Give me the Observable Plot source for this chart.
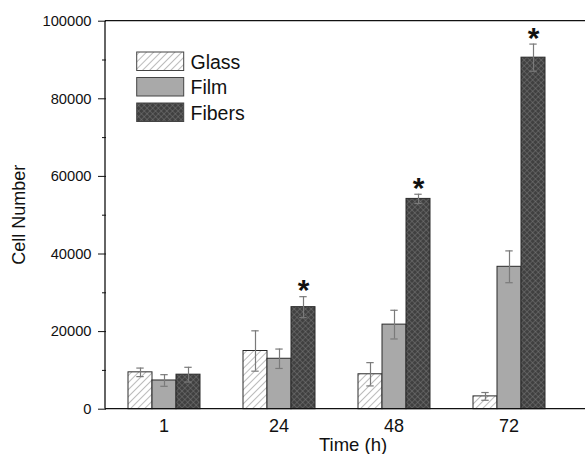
<!DOCTYPE html>
<html>
<head>
<meta charset="utf-8">
<script src="https://cdn.jsdelivr.net/npm/d3@7"></script>
<script src="https://cdn.jsdelivr.net/npm/@observablehq/plot@0.6"></script>
<style>
  html, body { margin: 0; padding: 0; background: #fff; }
  #chart { width: 585px; height: 454px; overflow: hidden; }
</style>
</head>
<body>
<div id="chart"></div>
<script>
// ---- data ----
const times = ["1", "24", "48", "72"];
const series = ["Glass", "Film", "Fibers"];
const glass = [9500, 15000, 9000, 3300];
const glassErr = [1100, 5200, 3000, 1000];
const film = [7400, 13000, 21800, 36700];
const filmErr = [1500, 2500, 3700, 4100];
const fibers = [8900, 26300, 54200, 90600];
const fibersErr = [1900, 2700, 1200, 3500];
const significant = [false, true, true, true]; // asterisk over Fibers
const yMajorTicks = [0, 20000, 40000, 60000, 80000, 100000];
const yMinorTicks = [10000, 30000, 50000, 70000, 90000];

// ---- table built from arrays ----
const values = {Glass: glass, Film: film, Fibers: fibers};
const errors = {Glass: glassErr, Film: filmErr, Fibers: fibersErr};
const data = [];
times.forEach((t, i) => series.forEach(s => {
  data.push({time: t, series: s, value: values[s][i], lo: values[s][i] - errors[s][i], hi: values[s][i] + errors[s][i], star: s === "Fibers" && significant[i]});
}));

const fills = {Glass: "url(#glassHatch)", Film: "#a9a9a9", Fibers: "url(#fiberHatch)"};
const font = "'Liberation Sans', Arial, sans-serif";

const W = 585, H = 454;
const plot = Plot.plot({
  width: W, height: H,
  marginLeft: 105, marginRight: 18, marginTop: 20.7, marginBottom: 45.3,
  style: {fontFamily: font, color: "#111", background: "white"},
  fx: {domain: times, padding: 0, axis: null, label: null},
  x: {domain: series, paddingInner: 0, paddingOuter: 0.84, axis: null},
  y: {domain: [0, 100000], axis: null},
  marks: [
    ...series.map(s => Plot.barY(data.filter(d => d.series === s), {
      fx: "time", x: "series", y: "value", fill: fills[s], stroke: "#2a2a2a", strokeWidth: 1
    })),
    Plot.ruleX(data, {fx: "time", x: "series", y1: "lo", y2: "hi", stroke: "#7a7a7a", strokeWidth: 1.2}),
    Plot.tickY(data, {fx: "time", x: "series", y: "lo", inset: 8.3, stroke: "#7a7a7a", strokeWidth: 1.2}),
    Plot.tickY(data, {fx: "time", x: "series", y: "hi", inset: 8.3, stroke: "#7a7a7a", strokeWidth: 1.2}),
    Plot.text(data.filter(d => d.star), {fx: "time", x: "series", y: "hi", text: () => "*", fontSize: 30, fontWeight: "bold", dy: -6, fill: "#111"}),
    Plot.axisY({ticks: yMajorTicks, tickSize: 8, tickPadding: 7, tickFormat: d => String(d), fontSize: 14.7, label: null, stroke: "#111"}),
    Plot.axisY({ticks: yMinorTicks, tickSize: 4, tickFormat: () => "", label: null, stroke: "#111"}),
    Plot.axisFx({anchor: "bottom", tickSize: 0, tickPadding: 10, fontSize: 18, label: null})
  ]
});

document.getElementById("chart").appendChild(plot);

// ---- patterns, frame lines, legend, axis titles ----
const svg = d3.select(plot);
const defs = svg.insert("defs", ":first-child");
const g1 = defs.append("pattern").attr("id", "glassHatch").attr("patternUnits", "userSpaceOnUse")
  .attr("width", 5).attr("height", 5).attr("patternTransform", "rotate(45)");
g1.append("rect").attr("width", 5).attr("height", 5).attr("fill", "#fff");
g1.append("line").attr("x1", 0).attr("y1", 0).attr("x2", 0).attr("y2", 5).attr("stroke", "#7a7a7a").attr("stroke-width", 1);
const g2 = defs.append("pattern").attr("id", "fiberHatch").attr("patternUnits", "userSpaceOnUse")
  .attr("width", 4).attr("height", 4).attr("patternTransform", "rotate(45)");
g2.append("rect").attr("width", 4).attr("height", 4).attr("fill", "#404040");
g2.append("line").attr("x1", 0).attr("y1", 0).attr("x2", 0).attr("y2", 4).attr("stroke", "#7e7e7e").attr("stroke-width", 0.9);
g2.append("line").attr("x1", 0).attr("y1", 0).attr("x2", 4).attr("y2", 0).attr("stroke", "#7e7e7e").attr("stroke-width", 0.9);

const y = plot.scale("y");
const y0 = y.apply(0), yTop = y.apply(100000);
const left = 105;
const frame = svg.append("g").attr("stroke", "#111").attr("stroke-width", 1.3);
frame.append("line").attr("x1", left).attr("x2", left).attr("y1", yTop).attr("y2", y0);
frame.append("line").attr("x1", left).attr("x2", W).attr("y1", yTop).attr("y2", yTop);
frame.append("line").attr("x1", left).attr("x2", W).attr("y1", y0).attr("y2", y0);

function label(sel, size) {
  return sel.style("font-family", font).style("font-size", size + "px").attr("fill", "#111");
}

// legend
const legend = svg.append("g");
const legendRows = [52, 77.5, 103];
series.forEach((s, i) => {
  legend.append("rect").attr("x", 136.7).attr("y", legendRows[i]).attr("width", 47).attr("height", 18.5)
    .attr("fill", fills[s]).attr("stroke", "#444").attr("stroke-width", 1);
  label(legend.append("text"), 19.5).attr("text-anchor", "start").attr("x", 190.5).attr("y", legendRows[i] + 16.5).text(s);
});

// axis titles
label(svg.append("text"), 18.5).attr("x", 353).attr("y", 451).attr("text-anchor", "middle").text("Time (h)");
label(svg.append("text"), 18).attr("transform", `translate(25,${(y0 + yTop) / 2}) rotate(-90)`).attr("text-anchor", "middle").text("Cell Number");
</script>
</body>
</html>
